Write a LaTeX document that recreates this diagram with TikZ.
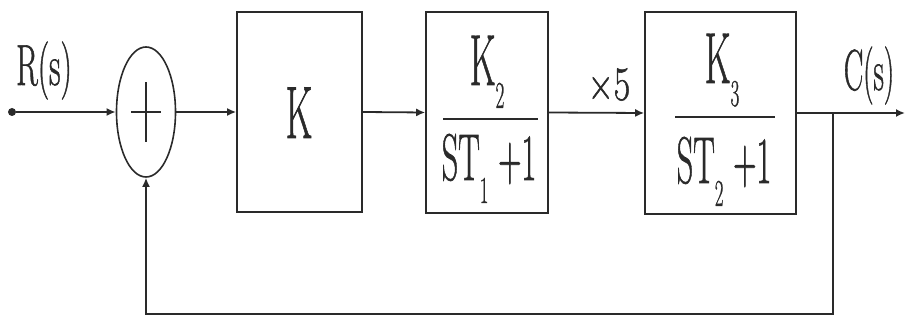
\documentclass[tikz,border=0pt]{standalone}
\usepackage{fontspec}
\setmainfont{Latin Modern Roman}[FakeBold=1.2]
\usetikzlibrary{shapes.geometric,arrows.meta}
\definecolor{ink}{HTML}{2A2A2A}
\newcommand\nar[2]{\scalebox{#1}[1]{#2}}
\newcommand\lowsub[1]{\raisebox{-23pt}{\fontsize{38}{38}\selectfont #1}}
\begin{document}
\begin{tikzpicture}[x=1pt,y=-1pt,
  ln/.style={line width=1.8pt, draw=ink},
  arr/.style={ln, -{Latex[length=9pt,width=8pt]}},
  blk/.style={draw=ink, line width=1.6pt, rectangle, inner sep=0pt},
  bar/.style={draw=ink, line width=2pt},
  lbl/.style={inner sep=0pt, anchor=base, text=ink},
]
\useasboundingbox (0,0) rectangle (907,320);
% blocks
\node[draw=ink, line width=1.6pt, ellipse, minimum width=59pt, minimum height=130pt, inner sep=0pt] (sum) at (146,112) {};
\node[blk, minimum width=125pt, minimum height=200pt] (k) at (299.5,112) {};
\node[blk, minimum width=122pt, minimum height=201pt] (g2) at (487,112.5) {};
\node[blk, minimum width=151pt, minimum height=202pt] (g3) at (720.5,113) {};
\node[circle, fill=ink, minimum size=8pt, inner sep=0pt] (r) at (12,112) {};
\coordinate (out) at (905,113);
\coordinate (br) at (833,113);
\coordinate (fb1) at (833,314);
\coordinate (fb2) at (146,314);
% plus sign
\draw[ln, line width=1.5pt] ([xshift=-15pt]sum.center) -- ([xshift=15pt]sum.center);
\draw[ln, line width=1.5pt] ([yshift=-30pt]sum.center) -- ([yshift=30pt]sum.center);
% connectors
\draw[arr] (r) -- (sum.west);
\draw[arr] (sum.east) -- (k.west);
\draw[arr] (k.east) -- (g2.west);
\draw[arr] (g2.east) -- (g3.west);
\draw[arr] (g3.east) -- (out);
\draw[arr] (br) -- (fb1) -- (fb2) -- (sum.south);
% texts
\node[lbl] (rs) at (44,85) {\fontsize{58}{58}\selectfont\nar{0.55}{R(s)}};
\node[lbl] (cs) at (869,90) {\fontsize{58}{58}\selectfont\nar{0.5}{C(s)}};
\node[lbl] (x5) at (609,100) {\fontsize{48}{48}\selectfont\nar{0.75}{×5}};
\node[lbl] (kt) at (299,138) {\fontsize{74}{74}\selectfont\nar{0.5}{K}};
\node[lbl] (n2) at (487,85) {\fontsize{72}{72}\selectfont\nar{0.5}{K\lowsub{2}}};
\node[lbl] (d2) at (489,180) {\fontsize{66}{66}\selectfont\nar{0.49}{ST\lowsub{1} +1}};
\draw[bar] (443,119) -- (538,119);
\node[lbl] (n3) at (722,83) {\fontsize{72}{72}\selectfont\nar{0.5}{K\lowsub{3}}};
\node[lbl] (d3) at (724,183) {\fontsize{66}{66}\selectfont\nar{0.49}{ST\lowsub{2} +1}};
\draw[bar] (675,117) -- (775,117);
\end{tikzpicture}
\end{document}
